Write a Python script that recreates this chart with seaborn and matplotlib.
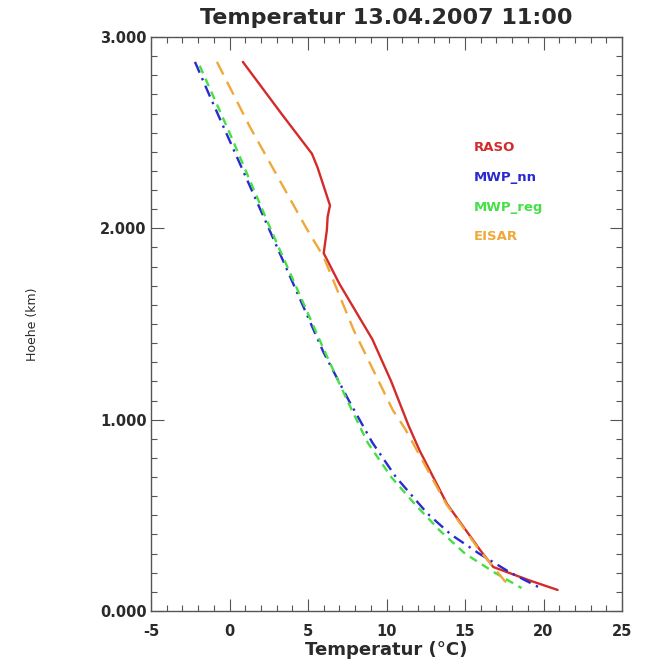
import numpy as np
import pandas as pd
import matplotlib
matplotlib.use("Agg")
import matplotlib.pyplot as plt
import seaborn as sns
from matplotlib.ticker import MultipleLocator, FuncFormatter

sns.set_style("white")
plt.rcParams['font.family'] = ['DejaVu Sans']
plt.rcParams['axes.unicode_minus'] = False

# ---- data ----
raso_h = [2.87, 2.60, 2.39, 2.32, 2.12, 2.06, 1.99, 1.87, 1.71, 1.42, 1.20, 0.97, 0.84, 0.56, 0.32, 0.23, 0.16, 0.11]
raso_t = [0.85, 3.30, 5.25, 5.60, 6.40, 6.25, 6.20, 6.00, 7.00, 9.10, 10.3, 11.4, 12.1, 13.85, 15.95, 16.8, 19.1, 20.9]

nn_h = [2.87, 2.69, 2.34, 2.00, 1.35, 1.10, 0.88, 0.70, 0.51, 0.40, 0.30, 0.20, 0.12]
nn_t = [-2.2, -1.25, 0.65, 2.5, 6.0, 7.6, 9.1, 10.6, 12.6, 14.1, 15.9, 17.9, 19.8]

reg_h = [2.85, 2.50, 2.00, 1.35, 1.10, 0.88, 0.70, 0.55, 0.42, 0.30, 0.20, 0.12]
reg_t = [-1.9, 0.0, 2.6, 6.1, 7.5, 8.8, 10.3, 11.9, 13.4, 15.0, 16.9, 18.6]

eis_h = [2.87, 2.53, 2.00, 1.85, 1.47, 1.05, 0.95, 0.56, 0.32, 0.23, 0.16, 0.12]
eis_t = [-0.8, 1.3, 4.9, 6.0, 7.9, 10.4, 11.2, 13.8, 15.9, 16.8, 17.5, 18.0]

series_names = ["RASO", "MWP_nn", "MWP_reg", "EISAR"]
series_colors = ["#d42a2a", "#2a2ad0", "#44e044", "#f0a838"]

title = "Temperatur 13.04.2007 11:00"
xlabel = "Temperatur (°C)"
ylabel = "Hoehe (km)"

fig = plt.figure(figsize=(6.5, 6.68), dpi=100)
ax = fig.add_axes([151/650, 57/668, 471/650, 574/668])

data = [(raso_t, raso_h), (nn_t, nn_h), (reg_t, reg_h), (eis_t, eis_h)]
styles = ["-", (0, (5, 2.5, 1, 2.5)), (0, (3.5, 2.5)), (0, (6, 3.5))]
for (t, h), name, col, ls in zip(data, series_names, series_colors, styles):
    df = pd.DataFrame({"T": t, "h": h})
    sns.lineplot(data=df, x="T", y="h", sort=False, color=col, lw=1.7, ax=ax,
                 linestyle=ls, estimator=None)

ax.set_xlim(-5, 25)
ax.set_ylim(0, 3)
ax.xaxis.set_major_locator(MultipleLocator(5))
ax.xaxis.set_minor_locator(MultipleLocator(1))
ax.yaxis.set_major_locator(MultipleLocator(1))
ax.yaxis.set_minor_locator(MultipleLocator(0.1))
ax.yaxis.set_major_formatter(FuncFormatter(lambda v, p: f"{v:.3f}"))
ax.tick_params(which="both", direction="in", top=True, right=True, bottom=True,
               left=True, color="#555555", width=0.8)
ax.tick_params(which="major", length=9)
ax.tick_params(which="minor", length=4)
ax.tick_params(axis="x", which="major", pad=9)
ax.tick_params(axis="y", which="major", pad=3)
for lab in ax.get_xticklabels() + ax.get_yticklabels():
    lab.set_fontweight("bold")
    lab.set_fontsize(10.5)
    lab.set_color("#2a2a2a")
for s in ax.spines.values():
    s.set_color("#555555")
    s.set_linewidth(1.0)

ax.set_title(title, fontsize=16, pad=9, fontweight="bold", color="#2a2a2a")
ax.set_xlabel(xlabel, fontsize=13, labelpad=2, fontweight="bold", color="#2a2a2a")
ax.set_ylabel(ylabel, fontsize=9, labelpad=44, color="#2a2a2a")

for i, (name, col) in enumerate(zip(series_names, series_colors)):
    ax.text(15.55, 2.42 - i*0.155, name, color=col, fontsize=9.5, va="center",
            ha="left", fontweight="bold")

fig.savefig("out.png", dpi=100)
